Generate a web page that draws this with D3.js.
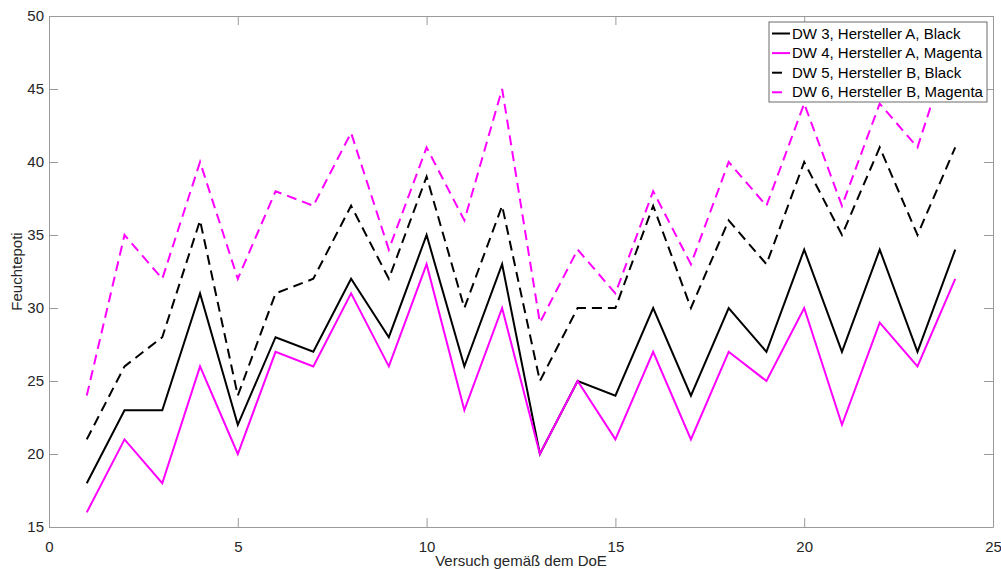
<!DOCTYPE html>
<html>
<head>
<meta charset="utf-8">
<script src="https://cdn.jsdelivr.net/npm/d3@7"></script>
<style>
  body { margin: 0; background: #fff; }
  svg { font-family: "Liberation Sans", Arial, sans-serif; }
</style>
</head>
<body>
<script>
// data
var versuch = d3.range(1, 25);
var dw3 = [18, 23, 23, 31, 22, 28, 27, 32, 28, 35, 26, 33, 20, 25, 24, 30, 24, 30, 27, 34, 27, 34, 27, 34];
var dw4 = [16, 21, 18, 26, 20, 27, 26, 31, 26, 33, 23, 30, 20, 25, 21, 27, 21, 27, 25, 30, 22, 29, 26, 32];
var dw5 = [21, 26, 28, 36, 24, 31, 32, 37, 32, 39, 30, 37, 25, 30, 30, 37, 30, 36, 33, 40, 35, 41, 35, 41];
var dw6 = [24, 35, 32, 40, 32, 38, 37, 42, 34, 41, 36, 45, 29, 34, 31, 38, 33, 40, 37, 44, 37, 44, 41, 49];
var seriesNames = ["DW 3, Hersteller A, Black", "DW 4, Hersteller A, Magenta",
                   "DW 5, Hersteller B, Black", "DW 6, Hersteller B, Magenta"];
var xTicks = [0, 5, 10, 15, 20, 25];
var yTicks = [15, 20, 25, 30, 35, 40, 45, 50];

var series = [
  { name: seriesNames[0], values: dw3, color: "#000000", dash: null },
  { name: seriesNames[1], values: dw4, color: "#ff00ff", dash: null },
  { name: seriesNames[2], values: dw5, color: "#000000", dash: "10,6" },
  { name: seriesNames[3], values: dw6, color: "#ff00ff", dash: "10,6" }
];

var W = 1001, H = 569;
var margin = { top: 16, right: 8, bottom: 42, left: 49 },
  width = W - margin.left - margin.right,
  height = H - margin.top - margin.bottom;

var svg = d3.select("body").append("svg")
  .attr("width", W)
  .attr("height", H);

var g = svg.append("g")
  .attr("transform", "translate(" + margin.left + "," + margin.top + ")");

var x = d3.scaleLinear().domain([0, 25]).range([0, width]);
var y = d3.scaleLinear().domain([15, 50]).range([height, 0]);

var axisColor = "#9a9a9a", textColor = "#262626";

// axes with inward ticks on all four sides
function styleAxis(sel) {
  sel.select(".domain").attr("stroke", axisColor);
  sel.selectAll(".tick line").attr("stroke", axisColor);
  sel.selectAll(".tick text").attr("fill", textColor).style("font-size", "15px");
}

g.append("g")
  .attr("transform", "translate(0," + height + ")")
  .call(d3.axisBottom(x).tickValues(xTicks).tickSizeInner(-9).tickSizeOuter(0).tickPadding(14))
  .call(styleAxis);

g.append("g")
  .call(d3.axisLeft(y).tickValues(yTicks).tickSizeInner(-9).tickSizeOuter(0).tickPadding(5))
  .call(styleAxis);

g.append("g")
  .call(d3.axisTop(x).tickValues(xTicks).tickSizeInner(-9).tickSizeOuter(0).tickFormat(""))
  .call(styleAxis);

g.append("g")
  .attr("transform", "translate(" + width + ",0)")
  .call(d3.axisRight(y).tickValues(yTicks).tickSizeInner(-9).tickSizeOuter(0).tickFormat(""))
  .call(styleAxis);

// axis labels
svg.append("text")
  .attr("x", margin.left + width / 2)
  .attr("y", 566)
  .attr("text-anchor", "middle")
  .attr("fill", textColor)
  .style("font-size", "15px")
  .text("Versuch gemäß dem DoE");

svg.append("text")
  .attr("transform", "translate(22," + (margin.top + height / 2) + ") rotate(-90)")
  .attr("text-anchor", "middle")
  .attr("fill", textColor)
  .style("font-size", "15px")
  .text("Feuchtepoti");

// the lines
var line = d3.line()
  .x(function(d, i) { return x(versuch[i]); })
  .y(function(d) { return y(d); });

series.forEach(function(s) {
  g.append("path")
    .datum(s.values)
    .attr("fill", "none")
    .attr("stroke", s.color)
    .attr("stroke-width", 2)
    .attr("stroke-linejoin", "miter")
    .attr("stroke-dasharray", s.dash)
    .attr("d", line);
});

// legend
var lg = svg.append("g").attr("transform", "translate(769,22)");
lg.append("rect")
  .attr("width", 218)
  .attr("height", 80)
  .attr("fill", "#fff")
  .attr("stroke", "#6a6a6a")
  .attr("stroke-width", 1);

series.forEach(function(s, i) {
  var cy = 11.5 + i * 19.6;
  lg.append("line")
    .attr("x1", 3).attr("x2", 21)
    .attr("y1", cy).attr("y2", cy)
    .attr("stroke", s.color)
    .attr("stroke-width", 2)
    .attr("stroke-dasharray", s.dash ? "10,9" : null);
  lg.append("text")
    .attr("x", 23)
    .attr("y", cy + 5)
    .attr("fill", "#000")
    .style("font-size", "15px")
    .text(s.name);
});
</script>
</body>
</html>
